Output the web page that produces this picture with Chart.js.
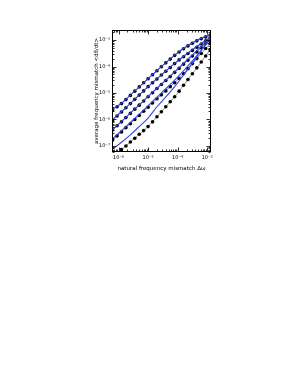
<!DOCTYPE html>
<html><head><meta charset="utf-8">
<script src="https://cdn.jsdelivr.net/npm/chart.js@4/dist/chart.umd.min.js"></script>
<style>html,body{margin:0;padding:0;background:#fff;overflow:hidden}#wrap{width:299px;height:387px}</style>
</head><body><div id="wrap"><canvas id="c" width="299" height="387"></canvas></div>
<script>
// all values stored as log10 exponents
const xDotExp = [-6.2,-6.05,-5.9,-5.75,-5.6,-5.45,-5.3,-5.15,-5.0,-4.85,-4.7,-4.55,-4.4,-4.25,-4.1,-3.95,-3.8,-3.65,-3.5,-3.35,-3.2,-3.05,-2.9];
const s1Exp = [-5.64,-5.52,-5.40,-5.25,-5.09,-4.93,-4.77,-4.61,-4.46,-4.31,-4.16,-4.01,-3.86,-3.72,-3.58,-3.45,-3.33,-3.22,-3.12,-3.03,-2.95,-2.88,-2.81];
const s2Exp = [-6.02,-5.87,-5.72,-5.56,-5.40,-5.24,-5.08,-4.92,-4.76,-4.61,-4.47,-4.32,-4.18,-4.04,-3.89,-3.75,-3.63,-3.51,-3.39,-3.27,-3.15,-3.03,-2.91];
const s3Exp = [-6.40,-6.24,-6.09,-5.93,-5.77,-5.61,-5.46,-5.30,-5.14,-4.99,-4.83,-4.68,-4.53,-4.38,-4.22,-4.07,-3.91,-3.76,-3.60,-3.45,-3.29,-3.13,-2.98];
const s4Exp = [-6.78,-6.62,-6.47,-6.31,-6.16,-6.00,-5.85,-5.69,-5.54,-5.38,-5.22,-5.07,-4.92,-4.76,-4.61,-4.45,-4.27,-4.08,-3.89,-3.70,-3.51,-3.32,-3.13];
const s5Exp = [-7.45,-7.30,-7.14,-7.00,-6.85,-6.71,-6.56,-6.42,-6.27,-6.09,-5.90,-5.71,-5.52,-5.33,-5.14,-4.93,-4.71,-4.49,-4.27,-4.05,-3.83,-3.60,-3.37];

const xLineExp = [-6.2,-5.9,-5.6,-5.3,-5.0,-4.7,-4.4,-4.1,-3.8,-3.5,-3.2,-2.9];
const l1Exp = [-5.62,-5.38,-5.08,-4.77,-4.46,-4.15,-3.85,-3.57,-3.31,-3.10,-2.93,-2.80];
const l2Exp = [-6.00,-5.70,-5.39,-5.07,-4.76,-4.46,-4.17,-3.88,-3.61,-3.36,-3.12,-2.90];
const l3Exp = [-6.38,-6.07,-5.76,-5.45,-5.13,-4.82,-4.51,-4.20,-3.88,-3.56,-3.24,-2.92];
const l4Exp = [-6.72,-6.42,-6.11,-5.80,-5.48,-5.16,-4.84,-4.51,-4.16,-3.79,-3.38,-2.95];
const l5Exp = [-7.12,-6.86,-6.58,-6.27,-5.95,-5.52,-5.15,-4.76,-4.33,-3.87,-3.40,-2.97];

const xTickValues = [1e-6,1e-5,1e-4,1e-3];
const xTickLabels = ['10\u207B\u2076','10\u207B\u2075','10\u207B\u2074','10\u207B\u00B3'];
const yTickValues = [1e-7,1e-6,1e-5,1e-4,1e-3];
const yTickLabels = ['10\u207B\u2077','10\u207B\u2076','10\u207B\u2075','10\u207B\u2074','10\u207B\u00B3'];
const xTitle = 'natural frequency mismatch \u0394\u03C9';
const yTitle = 'average frequency mismatch <d\u03B8/dt>';
const xRange = [6.0e-7, 1.35e-3];
const yRange = [5.9e-8, 2.4e-3];

const toPts = (xs, ys) => xs.map((e, i) => ({x: Math.pow(10, e), y: Math.pow(10, ys[i])}));

const BLUE = '#3346ea';
const lineSets = [l1Exp, l2Exp, l3Exp, l4Exp, l5Exp].map(ys => ({
  data: toPts(xLineExp, ys), showLine: true, borderColor: BLUE, borderWidth: 1.1,
  pointRadius: 0, cubicInterpolationMode: 'monotone', fill: false
}));
const dotSets = [s1Exp, s2Exp, s3Exp, s4Exp, s5Exp].map(ys => ({
  data: toPts(xDotExp, ys), showLine: true, borderColor: '#444', borderWidth: 0.6,
  pointRadius: 1.8, pointBackgroundColor: '#000', pointBorderWidth: 0, fill: false
}));

const FONT = 'DejaVu Sans';
const frame = {
  id: 'frame',
  afterDraw(chart) {
    const {ctx, chartArea: a, scales: {x, y}} = chart;
    ctx.save();
    ctx.strokeStyle = '#000';
    ctx.lineWidth = 1;
    const L = Math.round(a.left) + 0.5, R = Math.round(a.right) - 0.5;
    const T = Math.round(a.top) + 0.5, B = Math.round(a.bottom) - 0.5;
    ctx.strokeRect(L, T, R - L, B - T);
    const marks = (min, max) => {
      const out = [];
      for (let e = Math.floor(Math.log10(min)); e <= Math.ceil(Math.log10(max)); e++) {
        for (let m = 1; m <= 9; m++) {
          const v = m * Math.pow(10, e);
          if (v >= min && v <= max) out.push({v, major: m === 1});
        }
      }
      return out;
    };
    ctx.lineWidth = 0.8;
    ctx.beginPath();
    marks(x.min, x.max).forEach(t => {
      const px = Math.round(x.getPixelForValue(t.v)) + 0.5, len = t.major ? 4 : 2;
      ctx.moveTo(px, B); ctx.lineTo(px, B - len);
      ctx.moveTo(px, T); ctx.lineTo(px, T + len);
    });
    marks(y.min, y.max).forEach(t => {
      const py = Math.round(y.getPixelForValue(t.v)) + 0.5, len = t.major ? 4 : 2;
      ctx.moveTo(L, py); ctx.lineTo(L + len, py);
      ctx.moveTo(R, py); ctx.lineTo(R - len, py);
    });
    ctx.stroke();
    ctx.restore();
  }
};

new Chart(document.getElementById('c'), {
  type: 'scatter',
  data: {datasets: [...lineSets, ...dotSets]},
  options: {
    responsive: false, animation: false, devicePixelRatio: 1,
    layout: {padding: {left: 93.7, right: 88, top: 30, bottom: 215.2}},
    plugins: {legend: {display: false}, tooltip: {enabled: false}},
    scales: {
      x: {
        type: 'logarithmic', min: xRange[0], max: xRange[1], position: 'bottom',
        grid: {display: false, drawTicks: false}, border: {display: false},
        afterBuildTicks: s => { s.ticks = xTickValues.map(v => ({value: v})); },
        afterFit: s => { s.height = 19.8; },
        ticks: {autoSkip: false, maxRotation: 0, padding: 3, color: '#000',
          font: {family: FONT, size: 5}, callback: (v, i) => xTickLabels[i]},
        title: {display: true, text: xTitle, color: '#000', padding: 0,
          font: {family: FONT, size: 5.5}}
      },
      y: {
        type: 'logarithmic', min: yRange[0], max: yRange[1], position: 'left',
        grid: {display: false, drawTicks: false}, border: {display: false},
        afterBuildTicks: s => { s.ticks = yTickValues.map(v => ({value: v})); },
        afterFit: s => { s.width = 18.3; },
        ticks: {autoSkip: false, padding: 2, color: '#000',
          font: {family: FONT, size: 5}, callback: (v, i) => yTickLabels[i]},
        title: {display: true, text: yTitle, color: '#000', padding: 0,
          font: {family: FONT, size: 5.5}}
      }
    }
  },
  plugins: [frame]
});
</script>
</body></html>
